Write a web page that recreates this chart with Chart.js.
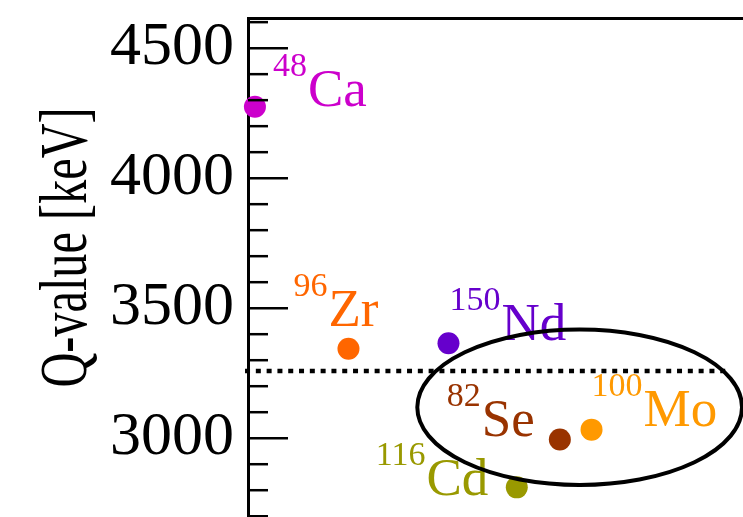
<!DOCTYPE html>
<html>
<head>
<meta charset="utf-8">
<script src="https://cdn.jsdelivr.net/npm/chart.js@4"></script>
<style>
  html, body { margin: 0; padding: 0; background: #fff; }
  #wrap { width: 743px; height: 517px; }
</style>
</head>
<body>
<div id="wrap"><canvas id="grafico"></canvas></div>
<script>
// Isotopes and their Q-values (keV)
const elementos = ['Ca', 'Zr', 'Nd', 'Se', 'Mo', 'Cd'];
const massas = ['48', '96', '150', '82', '100', '116'];
const qValores = [4275, 3344, 3365, 2995, 3033, 2811];
const posicaoX = [1.4, 20.3, 40.5, 63.0, 69.4, 54.3];
const cores = ['#cc00cc', '#ff6600', '#6600cc', '#993300', '#ff9900', '#999900'];

// horizontal dotted line
const limiarQ = 3258;
const limiarX = [-0.6, 97.4];

// y ticks: every 100, labels every 500
const yMin = 2697, yMax = 4616;
const yTicks = [];
for (let v = 2700; v <= 4600; v += 100) yTicks.push(v);
const yLabels = [3000, 3500, 4000, 4500];

// label placement in pixels relative to each point [dx, dy of main baseline]
const deslocamentos = [[18, -1], [-55, -23], [1, -3], [-113, -4], [0, -4], [-141, 8]];

// ellipse around Se / Mo (data units)
const elipse = { x: 67.0, y: 3119, rx: 32.8, ry: 299 };

const serif = '"Liberation Serif", "DejaVu Serif", serif';

function semPadding(scale) {
    scale.paddingTop = 0;
    scale.paddingBottom = 0;
    scale.paddingLeft = 0;
    scale.paddingRight = 0;
}

const desenhos = {
    id: 'desenhos',
    afterDatasetsDraw(chart) {
        const ctx = chart.ctx;
        const xs = chart.scales.x;
        const ys = chart.scales.y;
        const area = chart.chartArea;

        // inward tick marks
        ctx.save();
        ctx.strokeStyle = '#000';
        ctx.lineWidth = 2.5;
        yTicks.forEach(v => {
            const y = ys.getPixelForValue(v);
            const len = yLabels.includes(v) ? 40 : 20;
            ctx.beginPath();
            ctx.moveTo(area.left, y);
            ctx.lineTo(area.left + len, y);
            ctx.stroke();
        });
        ctx.restore();

        // isotope labels
        ctx.save();
        ctx.textBaseline = 'alphabetic';
        ctx.textAlign = 'left';
        elementos.forEach((el, i) => {
            const px = xs.getPixelForValue(posicaoX[i]);
            const py = ys.getPixelForValue(qValores[i]);
            const x0 = px + deslocamentos[i][0];
            const base = py + deslocamentos[i][1];
            ctx.fillStyle = cores[i];
            ctx.font = '34px ' + serif;
            ctx.fillText(massas[i], x0, base - 30);
            const w = ctx.measureText(massas[i]).width;
            ctx.font = '53px ' + serif;
            ctx.fillText(el, x0 + w + 1, base);
        });
        ctx.restore();

        // ellipse
        ctx.save();
        const cx = xs.getPixelForValue(elipse.x);
        const cy = ys.getPixelForValue(elipse.y);
        const rx = Math.abs(xs.getPixelForValue(elipse.x + elipse.rx) - cx);
        const ry = Math.abs(ys.getPixelForValue(elipse.y + elipse.ry) - cy);
        ctx.strokeStyle = '#000';
        ctx.lineWidth = 4;
        ctx.beginPath();
        ctx.ellipse(cx, cy, rx, ry, 0, 0, Math.PI * 2);
        ctx.stroke();
        ctx.restore();

        // axis title (condensed)
        ctx.save();
        ctx.translate(86, 247.5);
        ctx.rotate(-Math.PI / 2);
        ctx.scale(0.71, 1);
        ctx.fillStyle = '#000';
        ctx.font = '68px ' + serif;
        ctx.textAlign = 'center';
        ctx.textBaseline = 'alphabetic';
        ctx.fillText('Q-value [keV]', 0, 0);
        ctx.restore();
    }
};

const ctxGrafico = document.getElementById('grafico').getContext('2d');
new Chart(ctxGrafico, {
    type: 'scatter',
    data: {
        datasets: [{
            data: posicaoX.map((x, i) => ({ x: x, y: qValores[i] })),
            backgroundColor: cores,
            borderWidth: 0,
            pointRadius: 11,
            pointHoverRadius: 11,
            clip: false
        }, {
            data: limiarX.map(x => ({ x: x, y: limiarQ })),
            showLine: true,
            borderColor: '#000',
            borderWidth: 4.5,
            borderDash: [5, 5.8],
            pointRadius: 0,
            clip: false
        }]
    },
    options: {
        responsive: true,
        maintainAspectRatio: false,
        animation: false,
        layout: { padding: 0, autoPadding: false },
        plugins: { legend: { display: false }, tooltip: { enabled: false } },
        scales: {
            x: {
                type: 'linear',
                position: 'top',
                min: 0,
                max: 100,
                ticks: { display: false },
                grid: { display: true, drawOnChartArea: false, drawTicks: false },
                border: { display: true, color: '#000', width: 3 },
                afterFit(scale) { scale.height = 18; semPadding(scale); }
            },
            y: {
                min: yMin,
                max: yMax,
                afterBuildTicks(scale) { scale.ticks = yTicks.map(v => ({ value: v })); },
                ticks: {
                    color: '#000',
                    padding: 14,
                    autoSkip: false,
                    font: { family: serif, size: 62 },
                    callback: v => yLabels.includes(v) ? String(v) : ''
                },
                grid: { display: true, drawOnChartArea: false, drawTicks: false },
                border: { display: true, color: '#000', width: 3 },
                afterFit(scale) { scale.width = 248; semPadding(scale); }
            }
        }
    },
    plugins: [desenhos]
});
</script>
</body>
</html>
